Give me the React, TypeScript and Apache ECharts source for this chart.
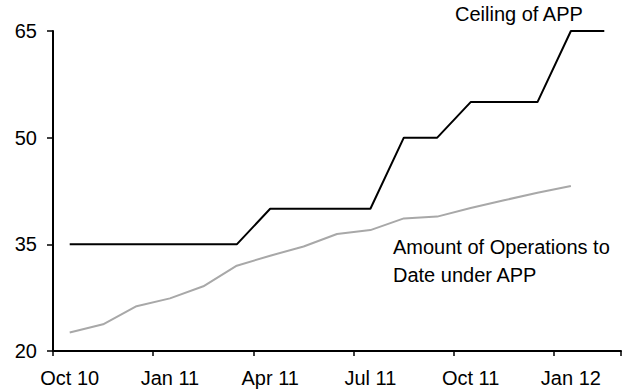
import React, { useEffect, useRef } from "react";
import * as echarts from "echarts";

const months = [
  "Oct 10", "Nov 10", "Dec 10", "Jan 11", "Feb 11", "Mar 11", "Apr 11", "May 11", "Jun 11",
  "Jul 11", "Aug 11", "Sep 11", "Oct 11", "Nov 11", "Dec 11", "Jan 12", "Feb 12",
];
const ceilingOfAPP = [35, 35, 35, 35, 35, 35, 40, 40, 40, 40, 50, 50, 55, 55, 55, 65, 65];
const operationsToDate = [
  22.6, 23.75, 26.3, 27.4, 29.1, 32.0, 33.4, 34.7, 36.45, 37.0, 38.65, 38.9, 40.1, 41.2, 42.25, 43.2, null,
];
const yMin = 20;
const yMax = 65;
const yInterval = 15;
const ceilingLabel = "Ceiling of APP";
const operationsLabel = "Amount of Operations to\nDate under APP";

const FONT = "'Liberation Sans', Arial, Helvetica, sans-serif";

export default function App() {
  const ref = useRef<HTMLDivElement>(null);
  useEffect(() => {
    if (!ref.current) return;
    const chart = echarts.init(ref.current, null, { renderer: "svg" });
    chart.setOption({
      animation: false,
      backgroundColor: "#ffffff",
      grid: { left: 53, right: 10, top: 31, bottom: 39, containLabel: false },
      xAxis: {
        type: "category",
        data: months,
        boundaryGap: true,
        axisLine: { lineStyle: { color: "#000", width: 2 } },
        axisTick: { show: true, interval: 2, length: 5, lineStyle: { color: "#000", width: 1.5 } },
        axisLabel: {
          interval: 2,
          color: "#000",
          fontSize: 20,
          fontFamily: FONT,
          margin: 17,
        },
        splitLine: { show: false },
      },
      yAxis: {
        type: "value",
        min: yMin,
        max: yMax,
        interval: yInterval,
        axisLine: { show: true, lineStyle: { color: "#000", width: 2 } },
        axisTick: { show: true, length: 6, lineStyle: { color: "#000", width: 1.5 } },
        axisLabel: { color: "#000", fontSize: 20, fontFamily: FONT, margin: 16 },
        splitLine: { show: false },
      },
      series: [
        {
          name: "Ceiling of APP",
          type: "line",
          data: ceilingOfAPP,
          symbol: "none",
          lineStyle: { color: "#000", width: 2 },
        },
        {
          name: "Amount of Operations to Date under APP",
          type: "line",
          data: operationsToDate,
          symbol: "none",
          lineStyle: { color: "#a8a8a8", width: 2 },
        },
      ],
      graphic: [
        {
          type: "text",
          left: 455,
          top: 4,
          style: { text: ceilingLabel, font: `20px ${FONT}`, fill: "#000" },
        },
        {
          type: "text",
          left: 393,
          top: 233,
          style: { text: operationsLabel, font: `20px ${FONT}`, fill: "#000", lineHeight: 28 },
        },
      ],
    });
    return () => chart.dispose();
  }, []);
  return (
    <div
      ref={ref}
      style={{ position: "fixed", left: 0, top: 0, width: 631, height: 390, background: "#fff" }}
    />
  );
}
